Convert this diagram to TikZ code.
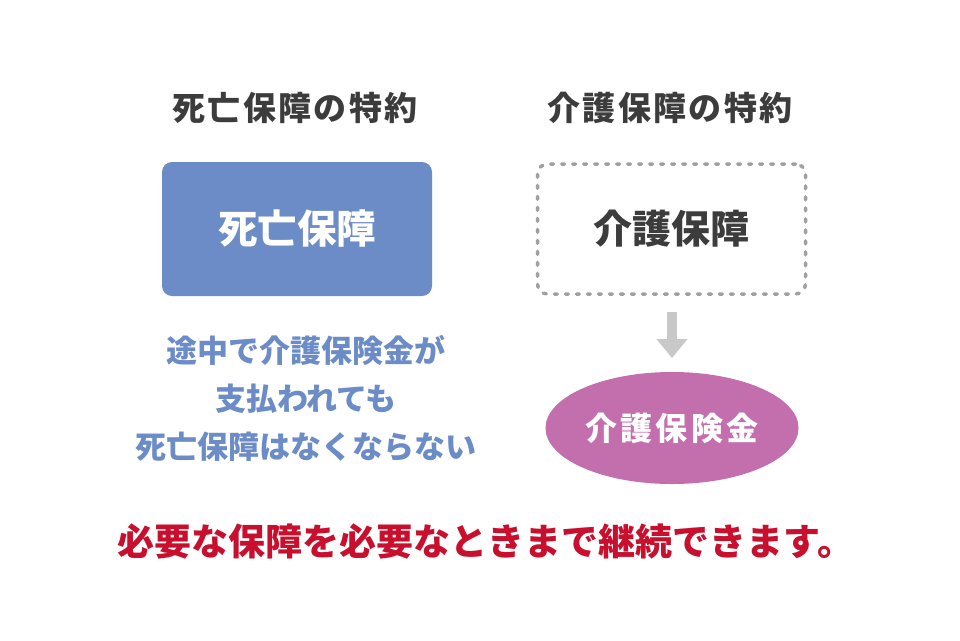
\documentclass[tikz,border=0pt]{standalone}
\usepackage{fontspec}
\newfontfamily\jp{Noto Sans CJK JP}
\newfontfamily\jpa{Noto Sans CJK JP}[LetterSpace=7]
\newfontfamily\jpb{Noto Sans CJK JP}[LetterSpace=10]
\usetikzlibrary{arrows.meta,shapes.geometric}
\definecolor{txtgray}{HTML}{3C3C3C}
\definecolor{boxblue}{HTML}{6B8CC6}
\definecolor{dotgray}{HTML}{A0A0A0}
\definecolor{arrgray}{HTML}{C8C8C8}
\definecolor{ellpink}{HTML}{C46FAD}
\definecolor{msgred}{HTML}{C8102E}
\tikzset{
  title/.style={font=\jpa\bfseries\fontsize{33pt}{38pt}\selectfont, text=txtgray},
  bluebox/.style={fill=boxblue, rounded corners=10pt, minimum width=270pt, minimum height=134pt, inner sep=0pt,
    font=\jp\bfseries\fontsize{39.5pt}{44pt}\selectfont, text=white},
  dotbox/.style={draw=dotgray, line width=3.5pt, dash pattern=on 3pt off 8pt, line cap=round, rounded corners=10pt,
    minimum width=268pt, minimum height=130pt, inner sep=0pt,
    font=\jp\bfseries\fontsize{39pt}{44pt}\selectfont, text=txtgray},
  note/.style={font=\jp\bfseries\fontsize{31pt}{48pt}\selectfont, text=boxblue, align=center},
  ellnode/.style={ellipse, fill=ellpink, minimum width=253pt, minimum height=112pt, inner sep=0pt,
    font=\jpb\bfseries\fontsize{32pt}{36pt}\selectfont, text=white},
  msg/.style={font=\jp\bfseries\fontsize{37pt}{42pt}\selectfont, text=msgred},
  grayarrow/.style={draw=arrgray, line width=10pt, -{Triangle[width=30pt,length=19pt]}}
}
\begin{document}
\begin{tikzpicture}[x=1pt,y=-1pt]
\useasboundingbox (0,0) rectangle (960,640);
\node[title] (t1) at (295,108) {死亡保障の特約};
\node[title] (t2) at (670,108) {介護保障の特約};
\node[bluebox] (b1) at (297,229) {死亡保障};
\node[dotbox] (b2) at (671.5,229) {介護保障};
\node[note] (n1) at (306,398) {途中で介護保険金が\\支払われても\\死亡保障はなくならない};
\node[ellnode] (e1) at (672,428) {介護保険金};
\coordinate (a1) at (672,312);
\coordinate (a2) at (672,358);
\draw[grayarrow] (a1) -- (a2);
\node[msg] (m1) at (486,541) {必要な保障を必要なときまで継続できます。};
\end{tikzpicture}
\end{document}
